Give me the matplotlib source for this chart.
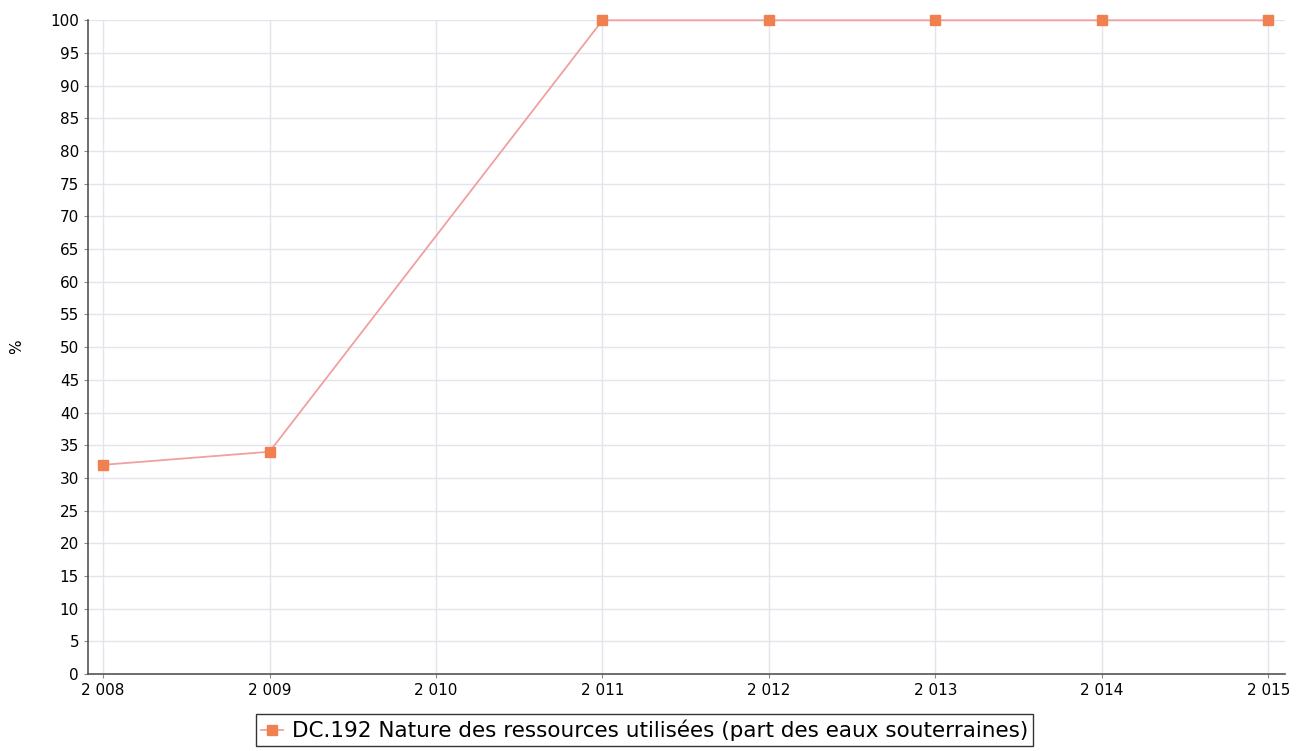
import matplotlib
matplotlib.use("Agg")
import matplotlib.pyplot as plt
from matplotlib.ticker import FixedLocator

years = [2008, 2009, 2010, 2011, 2012, 2013, 2014, 2015]
year_labels = ["2 008", "2 009", "2 010", "2 011", "2 012", "2 013", "2 014", "2 015"]
# 2010 has no value
point_years = [2008, 2009, 2011, 2012, 2013, 2014, 2015]
point_values = [32, 34, 100, 100, 100, 100, 100]
series_name = "DC.192 Nature des ressources utilisées (part des eaux souterraines)"

fig = plt.figure(figsize=(13.1, 7.51), dpi=100)
ax = fig.add_axes([0.0672, 0.1025, 0.9138, 0.8705])

ax.plot(point_years, point_values, color="#f0a0a0", lw=1.3, marker="s",
        markersize=7, markerfacecolor="#f08050", markeredgecolor="#f08050",
        label=series_name, zorder=3, clip_on=False)

ax.set_xlim(2008 - 0.09, 2015 + 0.1)
ax.set_ylim(0, 100)
ax.xaxis.set_major_locator(FixedLocator(years))
ax.set_xticklabels(year_labels)
ax.yaxis.set_major_locator(FixedLocator(range(0, 101, 5)))
ax.grid(True, color="#e4e4ec", lw=1)
ax.set_axisbelow(True)

for s in ["top", "right"]:
    ax.spines[s].set_visible(False)
for s in ["left", "bottom"]:
    ax.spines[s].set_color("#555555")
    ax.spines[s].set_linewidth(1.2)
ax.tick_params(axis="both", labelsize=11, length=3, color="#888888")
ax.set_ylabel("%", fontsize=11)
ax.yaxis.set_label_coords(-0.053, 0.5)

leg = ax.legend(loc="upper center", bbox_to_anchor=(0.465, -0.045), fontsize=15.5,
                frameon=True, fancybox=False, edgecolor="black",
                handlelength=1.0, borderpad=0.25, handletextpad=0.4)
leg.get_frame().set_linewidth(1.0)

fig.savefig("out.png", dpi=100)
